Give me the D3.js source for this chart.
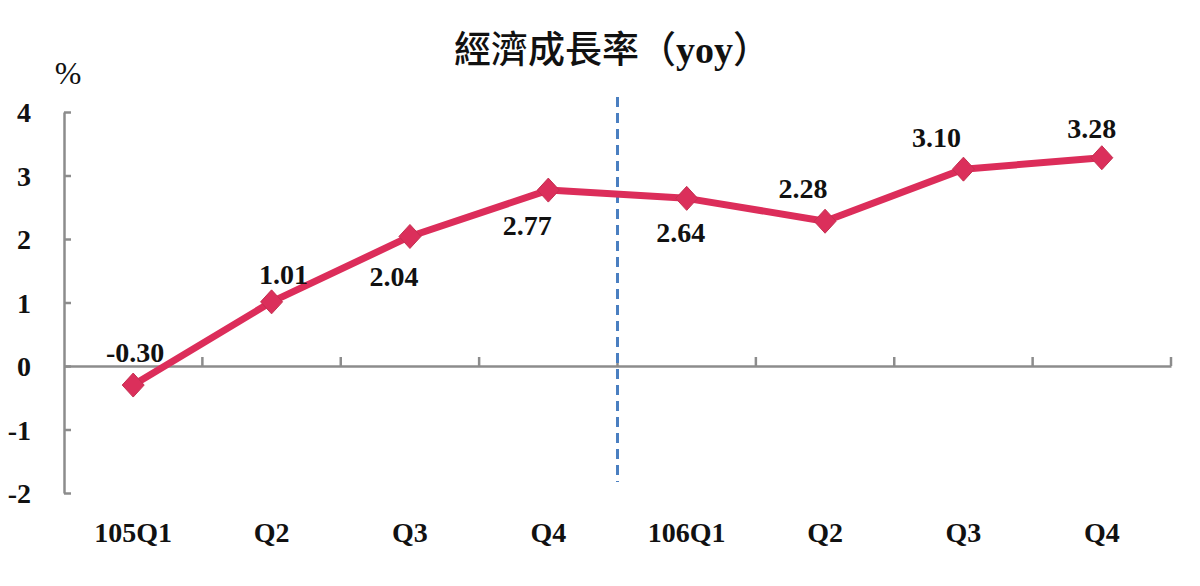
<!DOCTYPE html>
<html>
<head>
<meta charset="utf-8">
<script src="https://cdn.jsdelivr.net/npm/d3@7"></script>
<style>
  body { margin: 0; background: #fff; }
  svg { display: block; }
  .num { font-family: "Liberation Serif", "Times New Roman", serif; font-weight: bold; fill: #111; }
</style>
</head>
<body>
<div class="chart"></div>
<script>
"use strict";

// Quarters and growth rate (%)
const quarters = ["105Q1", "Q2", "Q3", "Q4", "106Q1", "Q2 ", "Q3 ", "Q4 "];
const quarterLabels = ["105Q1", "Q2", "Q3", "Q4", "106Q1", "Q2", "Q3", "Q4"];
const growth = [-0.30, 1.01, 2.04, 2.77, 2.64, 2.28, 3.10, 3.28];
const yTicks = [-2, -1, 0, 1, 2, 3, 4];

// where each value label sits relative to its marker
const labelOffsets = [
  [2, -23], [12, -18], [-16, 50], [-21, 45],
  [-6, 44], [-22, -23], [-27, -22], [-10, -20]
];

const width = 1200;
const height = 586;

const svg = d3.select(".chart")
  .append("svg")
    .attr("width", width)
    .attr("height", height);

const xScale = d3.scaleBand()
  .domain(quarters)
  .range([64, 1171]);

const yScale = d3.scaleLinear()
  .domain([-2, 4])
  .range([493, 112]);

const axisColor = "#8c8c8c";

// Title
const title = svg.append("text")
  .attr("x", 612)
  .attr("y", 63)
  .attr("text-anchor", "middle")
  .style("font-family", "'Noto Sans CJK TC', 'Noto Sans CJK SC', sans-serif")
  .style("font-weight", 500)
  .style("font-size", "37px")
  .attr("fill", "#111");
title.append("tspan").text("經濟成長率（");
title.append("tspan")
  .attr("class", "num")
  .style("font-size", "38px")
  .text("yoy");
title.append("tspan").text("）");

svg.append("text")
  .attr("class", "num")
  .attr("x", 68)
  .attr("y", 84)
  .attr("text-anchor", "middle")
  .style("font-size", "32px")
  .style("font-weight", "normal")
  .text("%");

// Y axis
const yAxis = d3.axisRight(yScale)
  .tickValues(yTicks)
  .tickSize(7)
  .tickSizeOuter(0)
  .tickFormat(d => String(d));

const yAxisG = svg.append("g")
  .attr("transform", `translate(${xScale.range()[0]}, 0)`)
  .call(yAxis);

yAxisG.select(".domain").attr("stroke", axisColor).attr("stroke-width", 2.5);
yAxisG.selectAll(".tick line").attr("stroke", axisColor).attr("stroke-width", 2.5);
yAxisG.selectAll(".tick text")
  .attr("class", "num")
  .attr("x", -33)
  .attr("dy", "0.35em")
  .attr("text-anchor", "end")
  .style("font-size", "28px");

// X axis at zero
const xAxis = d3.axisBottom(xScale)
  .tickSize(0)
  .tickSizeOuter(0)
  .tickFormat((d, i) => quarterLabels[i]);

const xAxisG = svg.append("g")
  .attr("transform", `translate(0, ${yScale(0)})`)
  .call(xAxis);

xAxisG.select(".domain").attr("stroke", axisColor).attr("stroke-width", 2.5);
xAxisG.selectAll(".tick text")
  .attr("class", "num")
  .attr("y", yScale(-2) - yScale(0) + 49)
  .attr("dy", 0)
  .style("font-size", "28px");

// boundary ticks pointing up
xAxisG.selectAll("line.boundary")
  .data(quarters)
  .join("line")
    .attr("class", "boundary")
    .attr("x1", d => xScale(d) + xScale.bandwidth())
    .attr("x2", d => xScale(d) + xScale.bandwidth())
    .attr("y1", 0)
    .attr("y2", -9)
    .attr("stroke", axisColor)
    .attr("stroke-width", 2.5);

// Dashed divider between the two years
svg.append("line")
  .attr("x1", xScale("106Q1"))
  .attr("x2", xScale("106Q1"))
  .attr("y1", 97)
  .attr("y2", 482)
  .attr("stroke", "#4a7fc1")
  .attr("stroke-width", 3)
  .attr("stroke-dasharray", "10,6");

// Line
const cx = (d, i) => xScale(quarters[i]) + xScale.bandwidth() / 2;

const lineGenerator = d3.line()
  .x(cx)
  .y(d => yScale(d));

svg.append("path")
  .attr("d", lineGenerator(growth))
  .attr("fill", "none")
  .attr("stroke", "#dc2d5a")
  .attr("stroke-width", 7)
  .attr("stroke-linejoin", "round");

// Diamond markers
svg.selectAll("path.marker")
  .data(growth)
  .join("path")
    .attr("class", "marker")
    .attr("d", "M0,-12L11,0L0,12L-11,0Z")
    .attr("transform", (d, i) => `translate(${cx(d, i)}, ${yScale(d)})`)
    .attr("fill", "#db2f5b")
    .attr("stroke", "#c43050")
    .attr("stroke-width", 1);

// Value labels
svg.selectAll("text.value")
  .data(growth)
  .join("text")
    .attr("class", "num value")
    .attr("x", (d, i) => cx(d, i) + labelOffsets[i][0])
    .attr("y", (d, i) => yScale(d) + labelOffsets[i][1])
    .attr("text-anchor", "middle")
    .style("font-size", "28px")
    .text(d => d.toFixed(2));
</script>
</body>
</html>
